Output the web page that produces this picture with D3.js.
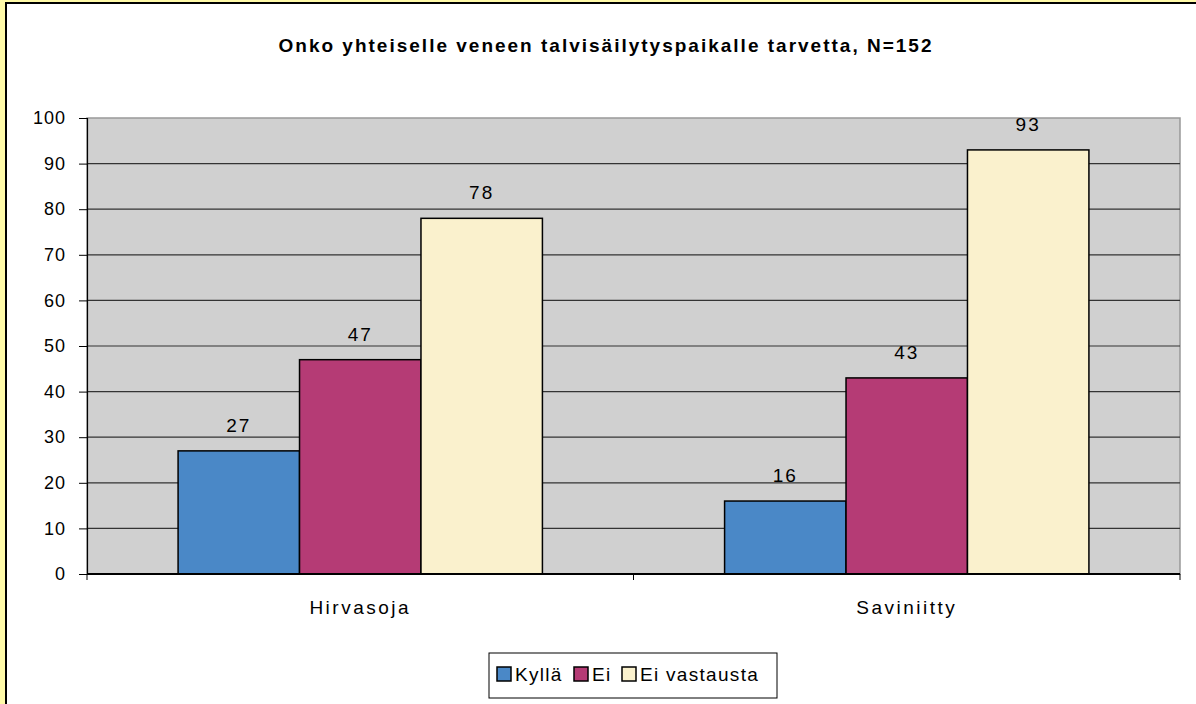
<!DOCTYPE html>
<html>
<head>
<meta charset="utf-8">
<script src="https://cdn.jsdelivr.net/npm/d3@7"></script>
<style>
  body { margin: 0; background: #fffaa8; }
  svg { display: block; font-family: "Liberation Sans", Arial, sans-serif; }
</style>
</head>
<body>
<div id="chart"></div>
<script>
// data
var categories = ["Hirvasoja", "Saviniitty"];
var seriesNames = ["Kyllä", "Ei", "Ei vastausta"];
var kylla = [27, 16];
var ei = [47, 43];
var eiVastausta = [78, 93];
var yTicks = [0, 10, 20, 30, 40, 50, 60, 70, 80, 90, 100];
var colors = ["#4a88c7", "#b53b75", "#faf1cd"];

var W = 1196, H = 704;
var margin = { top: 118, right: 16, bottom: 130, left: 87 };
var width = W - margin.left - margin.right;
var height = H - margin.top - margin.bottom;

var svg = d3.select("#chart").append("svg")
  .attr("width", W)
  .attr("height", H);

// outer frame
svg.append("rect").attr("width", W).attr("height", H).attr("fill", "#fffaa8");
svg.append("rect")
  .attr("x", 6).attr("y", 3)
  .attr("width", W + 10).attr("height", H + 10)
  .attr("fill", "#fff").attr("stroke", "#000").attr("stroke-width", 2);

svg.append("text")
  .attr("x", 606).attr("y", 52)
  .attr("text-anchor", "middle")
  .attr("font-size", 19).attr("font-weight", "bold")
  .attr("letter-spacing", 2)
  .text("Onko yhteiselle veneen talvisäilytyspaikalle tarvetta, N=152");

var g = svg.append("g")
  .attr("transform", "translate(" + margin.left + "," + margin.top + ")");

var x0 = d3.scaleBand().domain(categories).range([0, width]).paddingInner(0).paddingOuter(0);
var y = d3.scaleLinear().domain([0, 100]).range([height, 0]);

// grouped bars: 3 bars in 2/3 of band (gap 150%)
var x1 = d3.scaleBand().domain(seriesNames)
  .range([x0.bandwidth() / 6, x0.bandwidth() * 5 / 6]);

// plot background
g.append("rect")
  .attr("width", width).attr("height", height)
  .attr("fill", "#d0d0d0").attr("stroke", "#999").attr("stroke-width", 1.5);

// grid
g.selectAll(".grid").data(yTicks.slice(1, -1)).enter().append("line")
  .attr("x1", 0).attr("x2", width)
  .attr("y1", function(d) { return y(d); })
  .attr("y2", function(d) { return y(d); })
  .attr("stroke", "#333").attr("stroke-width", 1.2);

var rows = [];
categories.forEach(function(c, i) {
  rows.push({ cat: c, s: seriesNames[0], v: kylla[i], k: 0 });
  rows.push({ cat: c, s: seriesNames[1], v: ei[i], k: 1 });
  rows.push({ cat: c, s: seriesNames[2], v: eiVastausta[i], k: 2 });
});

g.selectAll(".bar").data(rows).enter().append("rect")
  .attr("x", function(d) { return x0(d.cat) + x1(d.s); })
  .attr("y", function(d) { return y(d.v); })
  .attr("width", x1.bandwidth())
  .attr("height", function(d) { return height - y(d.v); })
  .attr("fill", function(d) { return colors[d.k]; })
  .attr("stroke", "#000").attr("stroke-width", 1.5);

g.selectAll(".val").data(rows).enter().append("text")
  .attr("x", function(d) { return x0(d.cat) + x1(d.s) + x1.bandwidth() / 2; })
  .attr("y", function(d) { return y(d.v) - 19; })
  .attr("text-anchor", "middle")
  .attr("font-size", 19).attr("letter-spacing", 2)
  .text(function(d) { return d.v; });

// y axis
var yAxis = g.append("g")
  .call(d3.axisLeft(y).tickValues(yTicks).tickSize(8).tickPadding(13));
yAxis.select(".domain").attr("stroke", "#000").attr("stroke-width", 1.2);
yAxis.selectAll("line").attr("stroke", "#000");
yAxis.selectAll("text").attr("font-size", 18).attr("fill", "#000")
  .attr("letter-spacing", 1)
  .attr("font-family", "Liberation Sans, Arial, sans-serif");

// x axis
var xAxis = g.append("g").attr("transform", "translate(0," + height + ")");
xAxis.append("line").attr("x1", 0).attr("x2", width).attr("stroke", "#000").attr("stroke-width", 2);
xAxis.selectAll(".xt").data([0, 1, 2]).enter().append("line")
  .attr("x1", function(d) { return d * x0.bandwidth(); })
  .attr("x2", function(d) { return d * x0.bandwidth(); })
  .attr("y1", 0).attr("y2", 6)
  .attr("stroke", "#000");
xAxis.selectAll(".xl").data(categories).enter().append("text")
  .attr("x", function(d) { return x0(d) + x0.bandwidth() / 2; })
  .attr("y", 40)
  .attr("text-anchor", "middle")
  .attr("font-size", 19).attr("letter-spacing", 2.5)
  .text(function(d) { return d; });

// legend
var legend = svg.append("g").attr("transform", "translate(489,653)");
legend.append("rect").attr("width", 288).attr("height", 45)
  .attr("fill", "#fff").attr("stroke", "#000").attr("stroke-width", 1);
var lx = [8, 85, 133];
var items = legend.selectAll(".li").data(seriesNames).enter().append("g")
  .attr("transform", function(d, i) { return "translate(" + lx[i] + ",14)"; });
items.append("rect").attr("width", 14).attr("height", 14)
  .attr("fill", function(d, i) { return colors[i]; })
  .attr("stroke", "#000").attr("stroke-width", 1.5);
items.append("text").attr("x", 18).attr("y", 14)
  .attr("font-size", 19).attr("letter-spacing", 1.3)
  .text(function(d) { return d; });
</script>
</body>
</html>
